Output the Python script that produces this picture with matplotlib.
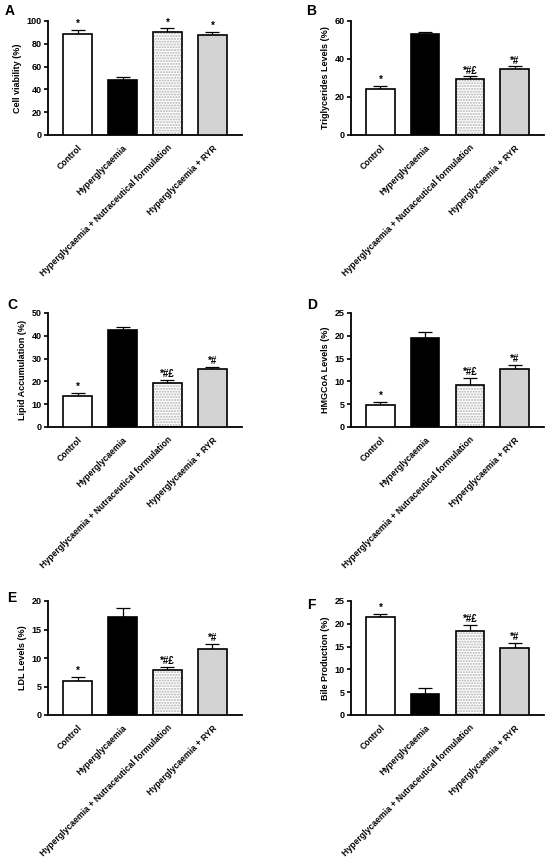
import matplotlib
matplotlib.use("Agg")
import matplotlib.pyplot as plt
import numpy as np

plt.rcParams["font.family"] = ["Liberation Sans", "DejaVu Sans"]
plt.rcParams["font.weight"] = "bold"

groups = ["Control", "Hyperglycaemia",
          "Hyperglycaemia + Nutraceutical formulation", "Hyperglycaemia + RYR"]

cell_viability = [89.0, 48.0, 90.5, 88.0]
cell_viability_err = [3.5, 2.5, 3.0, 2.5]
cell_viability_marks = ["*", "", "*", "*"]

triglycerides = [24.0, 53.0, 29.3, 34.8]
triglycerides_err = [2.0, 1.2, 1.5, 1.3]
triglycerides_marks = ["*", "", "*#£", "*#"]

lipid = [13.8, 42.5, 19.3, 25.3]
lipid_err = [1.3, 1.2, 1.3, 1.0]
lipid_marks = ["*", "", "*#£", "*#"]

hmgcoa = [4.8, 19.5, 9.3, 12.8]
hmgcoa_err = [0.7, 1.4, 1.5, 0.8]
hmgcoa_marks = ["*", "", "*#£", "*#"]

ldl = [5.9, 17.2, 7.9, 11.5]
ldl_err = [0.8, 1.5, 0.5, 0.9]
ldl_marks = ["*", "", "*#£", "*#"]

bile = [21.4, 4.7, 18.5, 14.8]
bile_err = [0.8, 1.2, 1.3, 1.0]
bile_marks = ["*", "", "*#£", "*#"]

panels = [
    ("A", "Cell viability (%)", cell_viability, cell_viability_err, cell_viability_marks, 100, 20),
    ("B", "Triglycerides Levels (%)", triglycerides, triglycerides_err, triglycerides_marks, 60, 20),
    ("C", "Lipid Accumulation (%)", lipid, lipid_err, lipid_marks, 50, 10),
    ("D", "HMGCoA Levels (%)", hmgcoa, hmgcoa_err, hmgcoa_marks, 25, 5),
    ("E", "LDL Levels (%)", ldl, ldl_err, ldl_marks, 20, 5),
    ("F", "Bile Production (%)", bile, bile_err, bile_marks, 25, 5),
]

W, H = 550, 861
# axes boxes in pixels: left, top, right, bottom
boxes = [
    (48, 21, 242, 135), (351, 21, 544, 135),
    (48, 313, 242, 427), (351, 313, 544, 427),
    (48, 601, 242, 715), (351, 601, 544, 715),
]
letter_pos = [(5, 11), (306, 11), (7, 305), (307, 305), (7, 598), (307, 605)]

fills = ["white", "black", "white", "#d3d3d3"]

fig = plt.figure(figsize=(W / 100, H / 100), dpi=100)
x = np.arange(len(groups))
width = 0.64

for (letter, ylabel, vals, errs, marks, ymax, step), (l, t, r, b), (lx, ly) in zip(panels, boxes, letter_pos):
    ax = fig.add_axes([l / W, 1 - b / H, (r - l) / W, (b - t) / H])
    # dotted fill for the nutraceutical bar
    ax.bar(x[2], vals[2], width, color="white", edgecolor="#b0b0b0", hatch="......",
           linewidth=0, zorder=2)
    ax.bar(x, vals, width, color=[c if i != 2 else "none" for i, c in enumerate(fills)],
           edgecolor="black", linewidth=1.2, zorder=3)
    ax.errorbar(x, vals, yerr=[np.zeros(len(errs)), errs], fmt="none", ecolor="black",
                elinewidth=0.9, capsize=5, capthick=0.9, zorder=1)
    for xi, v, e, m in zip(x, vals, errs, marks):
        if m:
            ax.text(xi, v + e + ymax * 0.025, m, ha="center", va="baseline",
                    fontsize=7, fontweight="bold")
    ax.set_xlim(-0.66, 3.66)
    ax.set_ylim(0, ymax)
    ax.set_yticks(np.arange(0, ymax + 0.1, step))
    ax.set_xticks(x)
    ax.set_xticklabels(groups, rotation=45, ha="right", rotation_mode="anchor",
                       fontsize=6.2, fontweight="bold")
    ax.tick_params(axis="y", labelsize=6.5, width=1.2, length=3, pad=1.5)
    ax.tick_params(axis="x", length=0, pad=6)
    for lab in ax.get_yticklabels():
        lab.set_fontweight("bold")
    ax.set_ylabel(ylabel, fontsize=6.5, fontweight="bold", labelpad=3)
    for s in ["top", "right"]:
        ax.spines[s].set_visible(False)
    for s in ["left", "bottom"]:
        ax.spines[s].set_linewidth(1.3)
    fig.text(lx / W, 1 - ly / H, letter, fontsize=10, fontweight="bold",
             ha="left", va="center")

fig.savefig("out.png", dpi=100)
